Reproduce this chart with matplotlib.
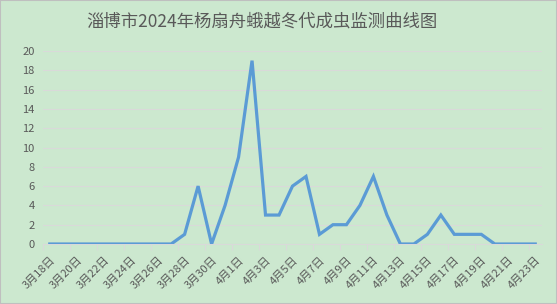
import matplotlib
matplotlib.use("Agg")
import matplotlib.pyplot as plt
from matplotlib.patches import Rectangle

plt.rcParams['font.family'] = ['Noto Sans CJK SC', 'DejaVu Sans']

dates = ([f"3月{d}日" for d in range(18, 32)] + [f"4月{d}日" for d in range(1, 24)])
counts = [0, 0, 0, 0, 0, 0, 0, 0, 0, 0,
          1, 6, 0, 4, 9, 19, 3, 3, 6, 7,
          1, 2, 2, 4, 7, 3, 0, 0, 1, 3,
          1, 1, 1, 0, 0, 0, 0]
yticks = list(range(0, 21, 2))
title = "淄博市2024年杨扇舟蛾越冬代成虫监测曲线图"

bg = '#CCE8CF'
fig = plt.figure(figsize=(5.57, 3.04), dpi=100, facecolor=bg)
ax = fig.add_axes([43/557, 1-244/304, (542-43)/557, (244-51)/304])
ax.set_facecolor(bg)

x = list(range(len(dates)))
ax.plot(x, counts, color='#5B9BD5', lw=2.3, solid_joinstyle='miter', zorder=3)

ax.set_xlim(-0.5, len(dates) - 0.5)
ax.set_ylim(0, 20)
ax.set_yticks(yticks)
ax.set_yticklabels([str(v) for v in yticks], fontsize=8, color='#595959')
ax.tick_params(axis='y', length=0, pad=6)
ax.grid(axis='y', color='#D9D9D9', lw=0.8, zorder=0)

ax.set_xticks(x[::2])
ax.set_xticklabels(dates[::2], rotation=45, ha='right', rotation_mode='anchor',
                   fontsize=8, color='#595959')
ax.tick_params(axis='x', which='major', length=0, pad=8)
ax.set_xticks([i - 0.5 for i in range(0, len(dates) + 1, 2)], minor=True)
ax.tick_params(axis='x', which='minor', length=4, color='#D9D9D9', width=0.8)

for s in ['top', 'right', 'left']:
    ax.spines[s].set_visible(False)
ax.spines['bottom'].set_color('#D9D9D9')
ax.spines['bottom'].set_linewidth(0.8)

fig.text(262/557, 1-22/304, title, ha='center', va='center', fontsize=12.5, color='#595959')
fig.patches.append(Rectangle((0, 0), 1, 1, transform=fig.transFigure, fill=False,
                             edgecolor='#BFBFBF', lw=1.5))

fig.savefig('out.png', dpi=100, facecolor=bg)
